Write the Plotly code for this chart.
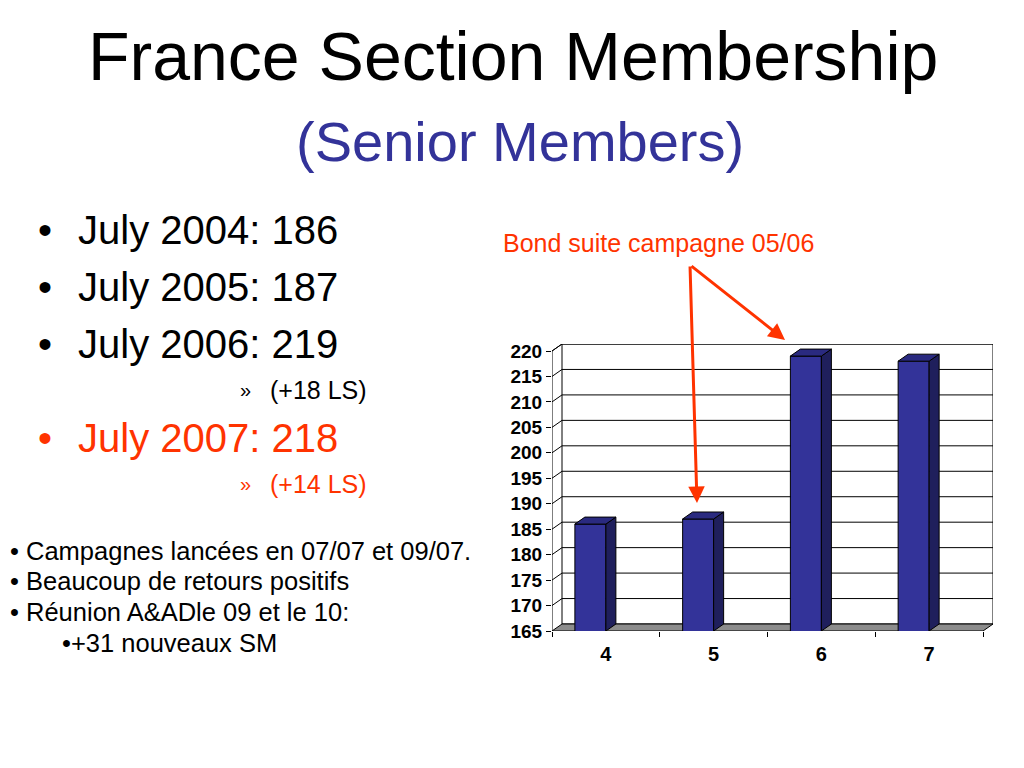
import plotly.graph_objects as go

# ---- data ----
categories = [4, 5, 6, 7]
members = [186, 187, 219, 218]
y_ticks = [165, 170, 175, 180, 185, 190, 195, 200, 205, 210, 215, 220]
bullet_lines = ["July 2004: 186", "July 2005: 187", "July 2006: 219"]
bullet_red = "July 2007: 218"
sub_notes = ["(+18 LS)", "(+14 LS)"]
bottom_notes = ["• Campagnes lancées en 07/07 et 09/07.",
                "• Beaucoup de retours positifs",
                "• Réunion A&amp;ADle 09 et le 10:"]
bottom_sub = "•+31 nouveaux SM"

W, H = 1024, 768
OFF = 8  # page body margin
FONT = "Liberation Sans, Arial, sans-serif"
RED = "#FF3300"
BLUE = "#333399"

# geometry of the pseudo-3D plot (pixels)
x_left_px, x_front_right_px = 552, 983
y_bottom_px, y_front_top_px = 631, 351
DX_PX, DY_PX = 10, 7
xmin, xmax_front = 3.5, 7.5
ymin, ymax_front = 165, 220
px_per_x = (x_front_right_px - x_left_px) / (xmax_front - xmin)
px_per_y = (y_bottom_px - y_front_top_px) / (ymax_front - ymin)
ddx = DX_PX / px_per_x
ddy = DY_PX / px_per_y
bar_w = 31 / px_per_x

fig = go.Figure()
fig.add_trace(go.Bar(
    x=categories, y=members, width=bar_w, offset=-bar_w,
    marker=dict(color=BLUE, line=dict(color="black", width=1)),
    showlegend=False, hoverinfo="skip",
))

shapes = []
# back wall
shapes.append(dict(type="rect", xref="x", yref="y", layer="below",
                   x0=xmin + ddx, x1=xmax_front + ddx, y0=ymin + ddy, y1=ymax_front + ddy,
                   fillcolor="white", line=dict(color="black", width=1)))
# gridlines (side wall diagonal + back wall)
for v in y_ticks[1:]:
    shapes.append(dict(type="path", xref="x", yref="y", layer="below",
                       path=f"M {xmin},{v} L {xmin+ddx},{v+ddy} L {xmax_front+ddx},{v+ddy}",
                       line=dict(color="black", width=1)))
# floor
shapes.append(dict(type="path", xref="x", yref="y", layer="below",
                   path=f"M {xmin},{ymin} L {xmax_front},{ymin} L {xmax_front+ddx},{ymin+ddy} "
                        f"L {xmin+ddx},{ymin+ddy} Z",
                   fillcolor="#8c8c8c", line=dict(color="black", width=1)))
# front vertical axis line + top diagonal
shapes.append(dict(type="path", xref="x", yref="y", layer="below",
                   path=f"M {xmin},{ymin} L {xmin},{ymax_front} L {xmin+ddx},{ymax_front+ddy}",
                   line=dict(color="black", width=1)))
# bar side & top faces
for c, v in zip(categories, members):
    shapes.append(dict(type="path", xref="x", yref="y",
                       path=f"M {c},{ymin} L {c+ddx},{ymin+ddy} L {c+ddx},{v+ddy} L {c},{v} Z",
                       fillcolor="#1f1f5c", line=dict(color="black", width=1)))
    shapes.append(dict(type="path", xref="x", yref="y",
                       path=f"M {c-bar_w},{v} L {c},{v} L {c+ddx},{v+ddy} L {c-bar_w+ddx},{v+ddy} Z",
                       fillcolor="#2a2a80", line=dict(color="black", width=1)))

def px(x):
    return (x - OFF) / W

def py(y):
    return 1 - (y - OFF) / H

ann = []
def txt(text, x, y, size, color="black", xanchor="left", yanchor="middle"):
    ann.append(dict(text=text, x=px(x), y=py(y), xref="paper", yref="paper",
                    xanchor=xanchor, yanchor=yanchor, showarrow=False,
                    font=dict(family=FONT, size=size, color=color)))

txt("France Section Membership", 513, 56, 68, xanchor="center")
txt("(Senior Members)", 520, 142, 56, color=BLUE, xanchor="center")

for i, line in enumerate(bullet_lines):
    yy = [230, 287, 344][i]
    txt("•", 45, yy, 40, xanchor="center")
    txt(line, 76, yy, 40)
txt("»", 245, 390, 20, xanchor="center")
txt(sub_notes[0], 268, 390, 25)
txt("•", 45, 438, 40, color=RED, xanchor="center")
txt(bullet_red, 76, 438, 40, color=RED)
txt("»", 245, 484, 20, color=RED, xanchor="center")
txt(sub_notes[1], 268, 484, 25, color=RED)

for i, line in enumerate(bottom_notes):
    txt(line, 8, [551, 581, 612][i], 25.5)
txt(bottom_sub, 60, 643, 25.5)

txt("Bond suite campagne 05/06", 658, 243, 25, color=RED, xanchor="center")

# arrows
tail = (690, 265)
for head in [(697, 503), (785, 340)]:
    ann.append(dict(text="", x=px(head[0]), y=py(head[1]), xref="paper", yref="paper",
                    ax=tail[0] - head[0], ay=tail[1] - head[1], axref="pixel", ayref="pixel",
                    showarrow=True, arrowhead=2, arrowsize=1.1, arrowwidth=3,
                    arrowcolor=RED, standoff=0))

fig.update_layout(
    width=W, height=H,
    margin=dict(l=0, r=0, t=0, b=0),
    paper_bgcolor="white", plot_bgcolor="rgba(0,0,0,0)",
    shapes=shapes, annotations=ann,
    xaxis=dict(domain=[px(x_left_px), px(x_front_right_px + DX_PX)],
               range=[xmin, xmax_front + ddx], tickvals=categories,
               ticktext=[str(c) for c in categories], ticks="",
               ticklabelstandoff=9,
               minor=dict(tickvals=[c - 0.5 for c in categories] + [xmax_front],
                          ticks="outside", ticklen=5, tickcolor="black", showgrid=False),
               showgrid=False, zeroline=False, showline=False, automargin=False,
               tickfont=dict(family=FONT, size=20, color="black", weight="bold")),
    yaxis=dict(domain=[py(y_bottom_px), py(y_front_top_px - DY_PX)],
               range=[ymin, ymax_front + ddy], tickvals=y_ticks,
               ticks="outside", ticklen=5, tickcolor="black",
               showgrid=False, zeroline=False, showline=False, automargin=False,
               tickfont=dict(family=FONT, size=19, color="black", weight="bold")),
)

fig.write_html("out.html")
